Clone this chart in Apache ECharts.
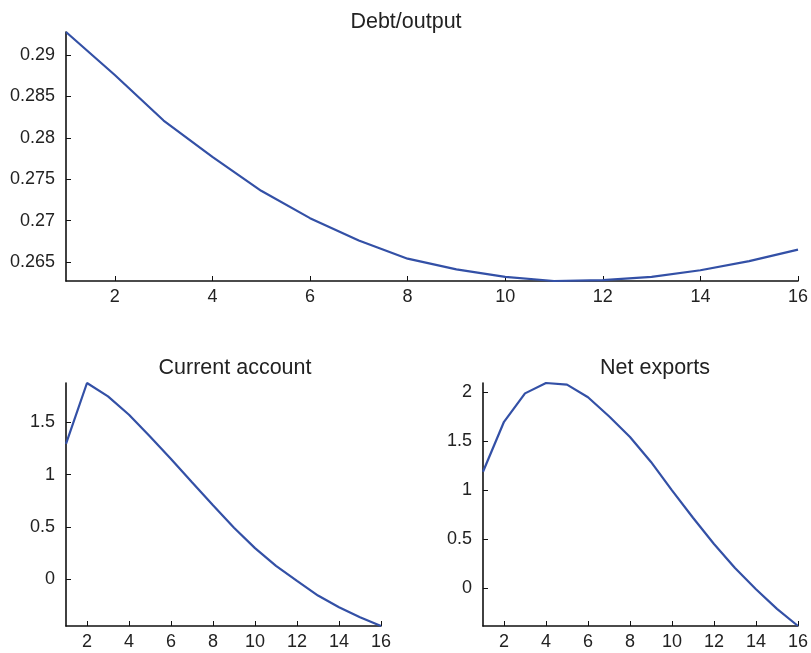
<!DOCTYPE html>
<html>
<head>
<meta charset="utf-8">
<script src="https://cdn.jsdelivr.net/npm/echarts@6/dist/echarts.min.js"></script>
<style>html,body{margin:0;padding:0;background:#fff}#c{width:811px;height:653px}</style>
</head>
<body>
<div id="c"></div>
<script>
const periods = [1,2,3,4,5,6,7,8,9,10,11,12,13,14,15,16];
const debtOutput = [0.2928,0.2876,0.2821,0.2777,0.2736,0.2703,0.2676,0.2654,0.2641,0.2632,0.2627,0.2628,0.2632,0.2640,0.2651,0.2665];
const currentAccount = [1.295,1.879,1.75,1.574,1.365,1.151,0.927,0.706,0.49,0.295,0.125,-0.02,-0.16,-0.272,-0.368,-0.452];
const netExports = [1.19,1.70,1.99,2.096,2.08,1.95,1.756,1.545,1.29,1.0,0.72,0.452,0.207,-0.01,-0.21,-0.385];
const xTicks = [2,4,6,8,10,12,14,16];
const debtTicks = [0.265,0.27,0.275,0.28,0.285,0.29];
const caTicks = [0,0.5,1,1.5];
const nxTicks = [0,0.5,1,1.5,2];
const titles = ['Debt/output','Current account','Net exports'];

const FONT = 'Liberation Sans, Arial, Helvetica, sans-serif';
const LINE = '#3350a6';

function pairs(vals){ return vals.map((v,i)=>[periods[i], v]); }
function xAxis(gi){
  return {
    type:'value', gridIndex:gi, min:1, max:16,
    axisLine:{show:true,onZero:false,lineStyle:{color:'#111',width:1.6}},
    axisTick:{show:true,inside:true,length:5,customValues:xTicks,lineStyle:{color:'#111',width:1}},
    axisLabel:{customValues:xTicks,color:'#222',fontSize:18,fontFamily:FONT,margin:7},
    splitLine:{show:false}
  };
}
function yAxis(gi, vals, ticks){
  return {
    type:'value', gridIndex:gi, min:Math.min(...vals), max:Math.max(...vals), scale:true,
    axisLine:{show:true,onZero:false,lineStyle:{color:'#111',width:1.6}},
    axisTick:{show:true,inside:true,length:5,customValues:ticks,lineStyle:{color:'#111',width:1}},
    axisLabel:{customValues:ticks,color:'#222',fontSize:18,fontFamily:FONT,margin:11,formatter:v=>String(v)},
    splitLine:{show:false}
  };
}
const titleStyle = {fontSize:21.5,fontWeight:'normal',color:'#222',fontFamily:FONT};
const chart = echarts.init(document.getElementById('c'));
chart.setOption({
  animation:false,
  backgroundColor:'#fff',
  title:[
    {text:titles[0],left:401,top:6,textAlign:'center',textStyle:titleStyle},
    {text:titles[1],left:230,top:352,textAlign:'center',textStyle:titleStyle},
    {text:titles[2],left:650,top:352,textAlign:'center',textStyle:titleStyle}
  ],
  grid:[
    {left:66,top:32,width:733,height:249},
    {left:66,top:383,width:315,height:243},
    {left:483,top:383,width:315.5,height:243}
  ],
  xAxis:[xAxis(0),xAxis(1),xAxis(2)],
  yAxis:[yAxis(0,debtOutput,debtTicks),yAxis(1,currentAccount,caTicks),yAxis(2,netExports,nxTicks)],
  series:[
    {type:'line',xAxisIndex:0,yAxisIndex:0,data:pairs(debtOutput),showSymbol:false,lineStyle:{color:LINE,width:2.2},clip:false},
    {type:'line',xAxisIndex:1,yAxisIndex:1,data:pairs(currentAccount),showSymbol:false,lineStyle:{color:LINE,width:2.2},clip:false},
    {type:'line',xAxisIndex:2,yAxisIndex:2,data:pairs(netExports),showSymbol:false,lineStyle:{color:LINE,width:2.2},clip:false}
  ]
});
</script>
</body>
</html>
